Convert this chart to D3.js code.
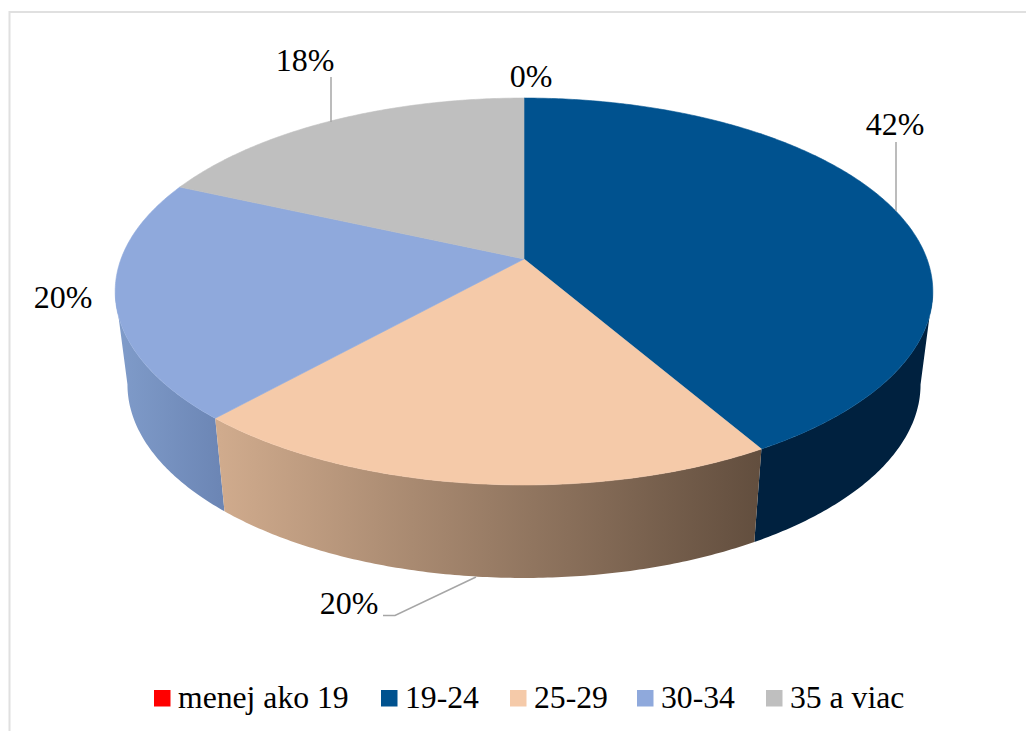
<!DOCTYPE html>
<html>
<head>
<meta charset="utf-8">
<script src="https://cdn.jsdelivr.net/npm/d3@7"></script>
<style>
html,body{margin:0;padding:0;background:#fff}
svg{display:block}
text{font-family:"Liberation Serif","Times New Roman",serif;fill:#000}
</style>
</head>
<body>
<svg id="chart" width="1026" height="731"></svg>
<script>
const categories = ["menej ako 19", "19-24", "25-29", "30-34", "35 a viac"];
const values = [0, 41.6, 20.1, 20, 18.3];
const colors = ["#ff0000", "#00528f", "#f5caa9", "#8fa9dc", "#bfbfbf"];

const W = 1026, H = 731;
const svg = d3.select("#chart").attr("viewBox", [0, 0, W, H]);

// frame
svg.append("rect").attr("x", 9.5).attr("y", 12).attr("width", W + 20).attr("height", H + 20)
  .attr("fill", "none").attr("stroke", "#e0e0e0").attr("stroke-width", 2);

// pie layout, clockwise from the top
const pie = d3.pie().sort(null).value(d => d)(values);

// perspective projection of the unit disc
const cx = 524, cy = 259, Rx = 403, Ry = 188, k = 0.168;
const depthY = 93, depthScale = 0.97;
function topEdge(theta) {
  const X = Math.sin(theta), Y = -Math.cos(theta), w = 1 - k * Y;
  return [cx + Rx * X / w, cy + Ry * Y / w];
}
function bottomEdge(theta) {
  const p = topEdge(theta);
  return [cx + (p[0] - cx) * depthScale, p[1] + depthY];
}
const arcPts = (fn, a0, a1) => {
  const n = Math.max(2, Math.ceil(Math.abs(a1 - a0) / 0.01));
  return d3.range(n + 1).map(i => fn(a0 + (a1 - a0) * i / n));
};
const line = d3.line();

// side-wall shading
const defs = svg.append("defs");
function grad(id, x1, x2, c1, c2) {
  const g = defs.append("linearGradient").attr("id", id).attr("gradientUnits", "userSpaceOnUse")
    .attr("x1", x1).attr("x2", x2).attr("y1", 0).attr("y2", 0);
  g.append("stop").attr("offset", 0).attr("stop-color", c1);
  g.append("stop").attr("offset", 1).attr("stop-color", c2);
}
grad("wall1", 720, 930, "#00213f", "#00213f");
grad("wall2", 220, 760, "#d0ab8d", "#624e3e");
grad("wall3", 115, 225, "#809cca", "#6b85b4");

const limit = Math.acos(-k); // silhouette angle of the disc
const walls = [
  { i: 1, fill: "url(#wall1)" },
  { i: 3, fill: "url(#wall3)" },
  { i: 2, fill: "url(#wall2)" }
];
walls.forEach(({ i, fill }) => {
  const a0 = Math.max(pie[i].startAngle, limit);
  const a1 = Math.min(pie[i].endAngle, 2 * Math.PI - limit);
  const pts = arcPts(topEdge, a0, a1).concat(arcPts(bottomEdge, a1, a0));
  svg.append("path").attr("d", line(pts) + "Z").attr("fill", fill);
});

// top surface
pie.forEach((d, i) => {
  if (d.endAngle - d.startAngle <= 0) return;
  const pts = [[cx, cy]].concat(arcPts(topEdge, d.startAngle, d.endAngle));
  svg.append("path").attr("d", line(pts) + "Z").attr("fill", colors[i])
    .attr("stroke", colors[i]).attr("stroke-width", 0.6);
});

// data labels with leader lines
const pct = d => d3.format(".0f")(d) + "%";
const labels = [
  { i: 0, x: 531, y: 87, leader: null },
  { i: 1, x: 895, y: 135, leader: [[896, 142], [896, 211]] },
  { i: 2, x: 349, y: 614, leader: [[383, 615.5], [395, 615.5], [476, 577]] },
  { i: 3, x: 63, y: 308, leader: null },
  { i: 4, x: 305, y: 71, leader: [[331, 77], [331, 122]] }
];
labels.forEach(l => {
  if (l.leader) svg.append("path").attr("d", line(l.leader)).attr("fill", "none")
    .attr("stroke", "#a6a6a6").attr("stroke-width", 1.5);
  svg.append("text").attr("x", l.x).attr("y", l.y).attr("text-anchor", "middle")
    .attr("font-size", 32).text(pct(values[l.i]));
});

// legend
const legendX = [154, 381, 510, 637, 766];
categories.forEach((c, i) => {
  svg.append("rect").attr("x", legendX[i]).attr("y", 690).attr("width", 16.5).attr("height", 16.5).attr("fill", colors[i]);
  svg.append("text").attr("x", legendX[i] + 24).attr("y", 708).attr("font-size", 31.7).text(c);
});
</script>
</body>
</html>
